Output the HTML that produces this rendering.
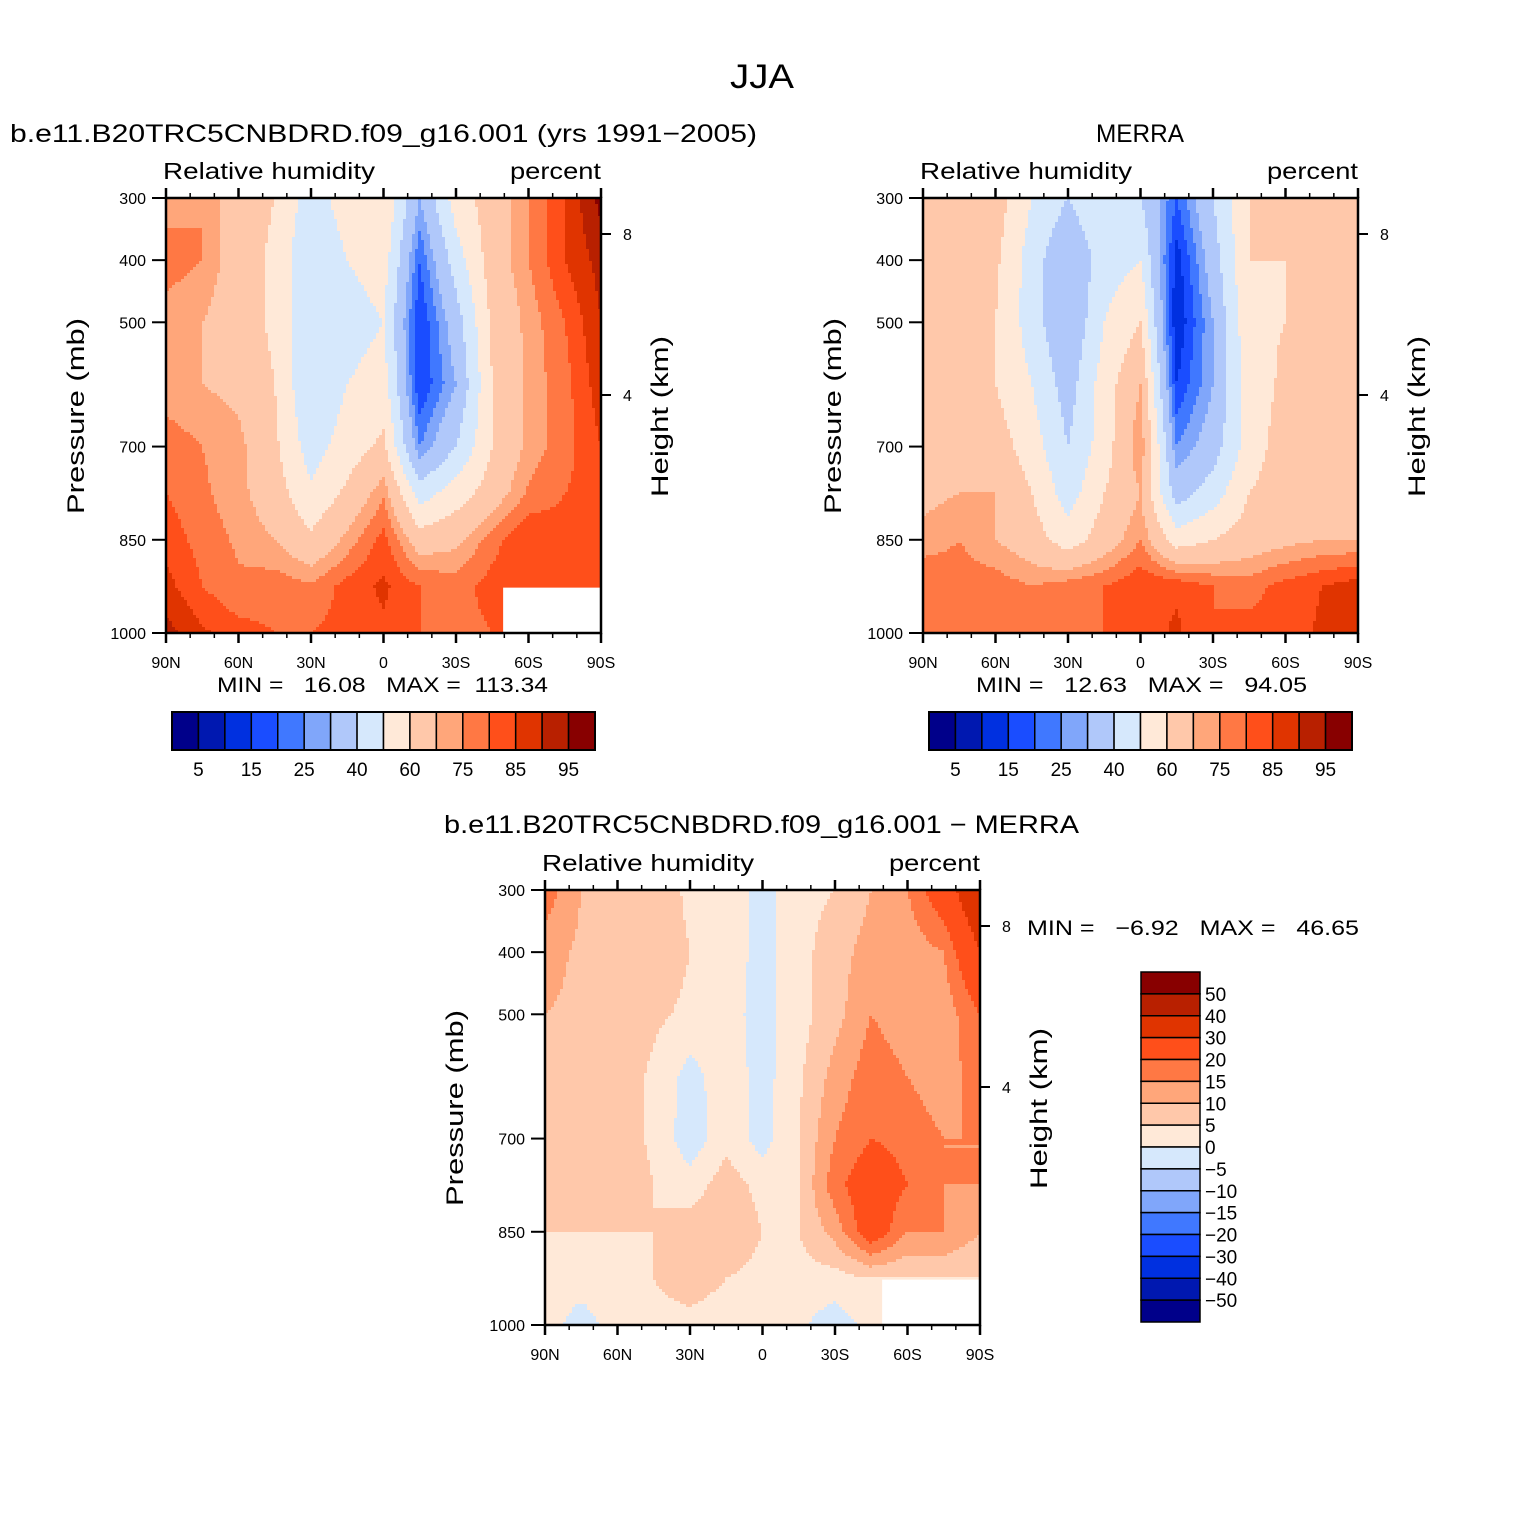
<!DOCTYPE html>
<html><head><meta charset="utf-8">
<style>
html,body{margin:0;padding:0;background:#fff;}
svg{display:block;font-family:"Liberation Sans",sans-serif;}
text{white-space:pre;}
</style></head>
<body>
<svg id="fig" width="1524" height="1524" viewBox="0 0 1524 1524" xmlns="http://www.w3.org/2000/svg">
<rect x="0" y="0" width="1524" height="1524" fill="#fff"/>
<text x="730" y="88" font-size="34" textLength="64" lengthAdjust="spacingAndGlyphs">JJA</text>
<text x="10" y="142" font-size="25" textLength="747" lengthAdjust="spacingAndGlyphs">b.e11.B20TRC5CNBDRD.f09_g16.001 (yrs 1991−2005)</text>
<text x="1096" y="142" font-size="25" textLength="88" lengthAdjust="spacingAndGlyphs">MERRA</text>
<text x="444" y="833" font-size="25" textLength="635" lengthAdjust="spacingAndGlyphs">b.e11.B20TRC5CNBDRD.f09_g16.001 − MERRA</text>
<g id="layer"></g>
</svg>
<script>
// ---- data ----
const lats = ["90N","75N","60N","45N","30N","15N","0","15S","30S","45S","60S","75S","90S"];
const pressures = [300,400,500,600,700,775,850,925,1000];
const pTicks = [300,400,500,700,850,1000];
const latTickLabels = ["90N","60N","30N","0","30S","60S","90S"];
const rhLevels = [5,10,15,20,25,30,40,50,60,70,75,80,85,90,95];
const rhLabels = ["5","15","25","40","60","75","85","95"];
const diffLevels = [-50,-40,-30,-20,-15,-10,-5,0,5,10,15,20,30,40,50];
const diffLabels = ["50","40","30","20","15","10","5","0","−5","−10","−15","−20","−30","−40","−50"];
const palette = ["#00008a","#0018b0","#0030e0","#1a4dff","#4078ff","#80a6fa","#b0c8fa","#d6e8fc","#ffe9d8","#ffc8aa","#ffa67a","#ff7844","#ff4f1a","#e03400","#b82000","#880000"];
const modelRH = [
 [72,75,65,60,45,55,60,30,55,65,75,85,97],
 [78,75,65,58,40,50,55,20,45,65,75,85,92],
 [72,70,65,58,40,45,50,15,35,62,72,80,90],
 [72,70,68,60,40,50,55,15,30,60,72,78,88],
 [78,75,72,62,45,55,62,25,40,60,72,78,85],
 [80,76,72,65,52,62,74,45,55,65,76,80,82],
 [83,78,74,70,62,72,82,65,68,78,85,82,80],
 [87,80,76,78,76,82,86,80,78,82,84,82,80],
 [92,86,82,80,80,82,84,80,78,80,82,82,80]];
const merraRH = [
 [60,60,65,50,40,50,40,20,40,60,62,65,68],
 [62,62,62,45,30,45,50,12,35,60,60,68,70],
 [60,62,60,45,30,50,60,10,30,58,60,65,68],
 [60,62,60,50,35,55,70,15,30,55,62,65,68],
 [65,68,65,55,40,55,75,25,35,55,65,65,70],
 [68,70,70,60,45,60,70,35,45,60,65,65,60],
 [72,75,70,65,55,65,75,55,60,65,68,70,70],
 [80,78,78,75,78,80,84,84,80,78,82,85,88],
 [80,80,80,78,78,80,82,86,80,82,82,86,90]];
const diffRH = [
 [18,10,8,8,4,3,-2,3,5,10,15,25,40],
 [12,9,8,8,5,3,-2,3,8,12,12,15,30],
 [10,9,8,6,4,2,-2,3,8,15,12,12,20],
 [9,9,8,4,-2,3,-2,4,12,18,15,12,18],
 [9,9,8,4,-3,3,-2,5,15,20,18,15,15],
 [8,8,8,5,2,8,3,5,18,25,20,15,15],
 [5,5,5,5,8,10,5,5,12,25,15,15,10],
 [2,2,3,5,8,5,3,3,3,5,5,5,5],
 [2,-2,2,3,3,2,2,1,-3,2,2,2,2]];

const NS="http://www.w3.org/2000/svg";
const layer=document.getElementById('layer');
function mk(tag,attrs,parent){const e=document.createElementNS(NS,tag);for(const k in attrs)e.setAttribute(k,attrs[k]);(parent||layer).appendChild(e);return e;}
function bin(v,levels){let k=0;while(k<levels.length&&v>=levels[k])k++;return k;}
function sample(data,u,p){
  let i=Math.min(Math.floor(u),lats.length-2);const fu=u-i;
  let j=0;while(j<pressures.length-2&&p>pressures[j+1])j++;
  const fp=Math.max(0,Math.min(1,(p-pressures[j])/(pressures[j+1]-pressures[j])));
  const a=data[j][i]*(1-fu)+data[j][i+1]*fu, b=data[j+1][i]*(1-fu)+data[j+1][i+1]*fu;
  return a*(1-fp)+b*fp;}
function fitText(t,len){t.setAttribute('textLength',len);t.setAttribute('lengthAdjust','spacingAndGlyphs');}

function panel(ox,oy,data,levels,name,mask){
  const W=435,H=435,N=lats.length-1;
  const g=mk('g',{});
  
  
  const xOf=u=>ox+u/N*W, yOf=p=>oy+(p-300)/700*H;
  const cs=3;
  for(let py=0;py<H;py+=cs){
    const p=300+(py+cs/2)/H*700;
    let runStart=0,runCol=-1;
    for(let px=0;px<=W;px+=cs){
      let c=-2;
      if(px<W){const u=(px+cs/2)/W*N;c=bin(sample(data,u,p),levels);}
      if(c!==runCol){
        if(runCol>=0){const r=mk('rect',{x:ox+runStart,y:oy+py,width:Math.min(px,W)-runStart+0.6,height:Math.min(cs,H-py)+0.6,fill:palette[runCol]},g);
          
          }
        runStart=px;runCol=c;}
    }
  }
  if(mask){const m=mk('rect',{x:xOf(mask[0]),y:yOf(mask[1]),width:ox+W-xOf(mask[0]),height:oy+H-yOf(mask[1]),fill:'#fff'},g);
    
    }
  const fr=mk('rect',{x:ox,y:oy,width:W,height:H,fill:'none',stroke:'#000','stroke-width':2.5},g);
  
  
  for(let d=0;d<=18;d++){const x=ox+d/18*W,maj=d%3===0,L=maj?10:5;
    mk('line',{x1:x,y1:oy+H,x2:x,y2:oy+H+L,stroke:'#000','stroke-width':maj?2.5:1.5},g);
    mk('line',{x1:x,y1:oy,x2:x,y2:oy-L,stroke:'#000','stroke-width':maj?2.5:1.5},g);}
  latTickLabels.forEach((t,k)=>{const tx=mk('text',{x:ox+k/6*W,y:oy+H+35,'font-size':16,'text-anchor':'middle'},g);tx.textContent=t;
    
    });
  pTicks.forEach(p=>{const y=yOf(p);mk('line',{x1:ox-14,y1:y,x2:ox,y2:y,stroke:'#000','stroke-width':2},g);
    const tx=mk('text',{x:ox-20,y:y+6,'font-size':16,'text-anchor':'end'},g);tx.textContent=p;
    
    });
  [[8,36],[4,197]].forEach(([h,dy])=>{mk('line',{x1:ox+W,y1:oy+dy,x2:ox+W+10,y2:oy+dy,stroke:'#000','stroke-width':2},g);
    const tx=mk('text',{x:ox+W+22,y:oy+dy+6,'font-size':16},g);tx.textContent=h;
    
    });
  let t=mk('text',{x:ox-3,y:oy-19,'font-size':23},g);t.textContent='Relative humidity';fitText(t,212);
  
  t=mk('text',{x:ox+W-91,y:oy-19,'font-size':23},g);t.textContent='percent';fitText(t,91);
  
  const py0=oy+316;
  t=mk('text',{x:ox-82,y:py0,'font-size':24,transform:`rotate(-90 ${ox-82} ${py0})`},g);t.textContent='Pressure (mb)';fitText(t,196);
  
  t=mk('text',{x:ox+W+67,y:oy+299,'font-size':24,transform:`rotate(-90 ${ox+W+67} ${oy+299})`},g);t.textContent='Height (km)';fitText(t,161);
  
}
panel(166,198,modelRH,rhLevels,'model',[9.3,927]);
panel(923,198,merraRH,rhLevels,'merra',null);
panel(545,890,diffRH,diffLevels,'diff',[9.3,927]);

function txt(x,y,s,content,name,anchor,len){const t=mk('text',{x:x,y:y,'font-size':s,'text-anchor':anchor||'start'});t.textContent=content;
  if(len)fitText(t,len);
  }
txt(217,692,21,'MIN =   16.08   MAX =  113.34','model-min-max','start',331);
txt(976,692,21,'MIN =   12.63   MAX =   94.05','merra-min-max','start',331);
txt(1027,935,21,'MIN =   −6.92   MAX =   46.65','diff-min-max','start',332);

function hbar(x0,name){const bw=423/16;
  for(let k=0;k<16;k++){const r=mk('rect',{x:x0+k*bw,y:712,width:bw,height:38,fill:palette[k],stroke:'#000','stroke-width':1.5});
    }
  mk('rect',{x:x0,y:712,width:423,height:38,fill:'none',stroke:'#000','stroke-width':2});
  rhLabels.forEach((l,k)=>txt(x0+(2*k+1)*bw,776,19,l,name+'-colorbar-label','middle'));}
hbar(172,'model');hbar(929,'merra');
(function(){const bh=350/16;
  for(let k=0;k<16;k++){const r=mk('rect',{x:1141,y:972+k*bh,width:59,height:bh,fill:palette[15-k],stroke:'#000','stroke-width':1.5});
    }
  diffLabels.forEach((l,k)=>txt(1205,972+(k+1)*bh+7,19,l,'diff-colorbar-label','start'));})();
</script>
</body></html>
